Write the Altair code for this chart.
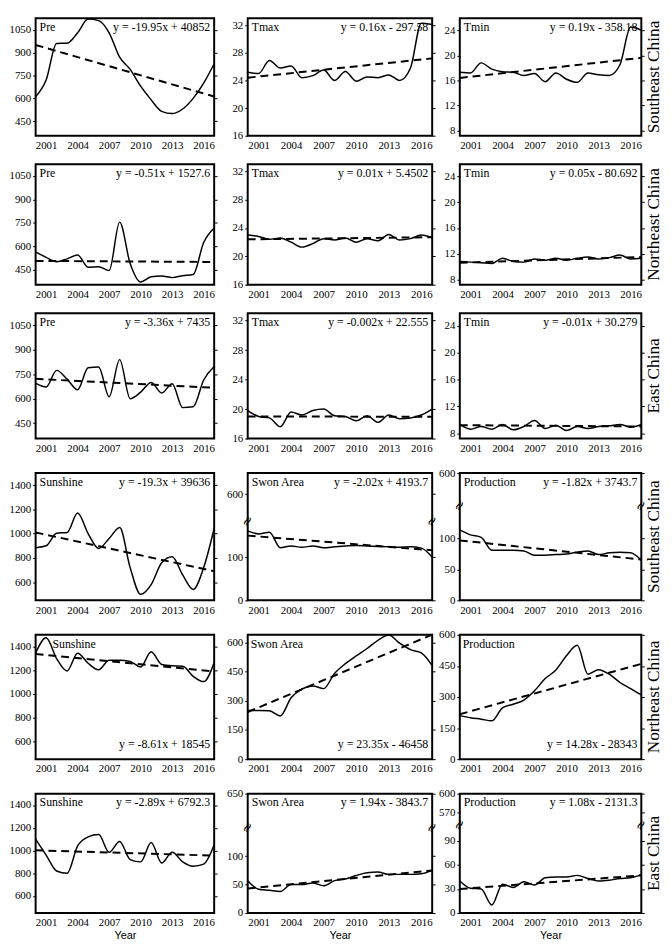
import altair as alt
import pandas as pd

years = list(range(2000, 2018))
x_ticks = [2001, 2004, 2007, 2010, 2013, 2016]

# ---- climate, Southeast / Northeast / East China ----
se_pre  = [611, 720, 960, 962, 1030, 1120, 1110, 1030, 870, 790, 680, 590, 515, 500, 530, 600, 700, 827]
se_tmax = [25.2, 25.0, 26.9, 25.8, 26.1, 24.4, 24.7, 25.5, 24.0, 25.3, 23.9, 24.5, 24.4, 24.8, 24.0, 25.8, 32.3, 32.1]
se_tmin = [17.3, 17.2, 18.8, 17.8, 17.4, 17.3, 16.8, 17.1, 15.8, 17.2, 16.2, 15.7, 17.2, 16.9, 16.8, 18.5, 24.5, 24.0]
ne_pre  = [565, 530, 502, 520, 545, 466, 470, 445, 755, 490, 372, 405, 410, 400, 412, 420, 625, 718]
ne_tmax = [23.0, 22.8, 22.4, 22.6, 22.0, 21.3, 21.8, 22.5, 22.3, 22.6, 22.0, 22.5, 22.2, 23.1, 22.3, 22.5, 23.0, 22.6]
ne_tmin = [10.8, 10.7, 10.6, 10.5, 11.3, 10.8, 10.7, 11.2, 11.0, 11.3, 11.0, 11.3, 11.5, 11.2, 11.4, 11.8, 11.2, 11.3]
ea_pre  = [696, 672, 774, 720, 655, 790, 795, 612, 840, 600, 640, 700, 635, 692, 545, 550, 715, 798]
ea_tmax = [19.8, 19.0, 18.8, 17.6, 19.6, 19.2, 19.8, 20.0, 19.1, 19.0, 18.4, 19.1, 18.2, 19.2, 18.7, 18.8, 19.2, 20.0]
ea_tmin = [9.3, 8.6, 9.0, 8.6, 9.3, 8.5, 9.0, 9.9, 8.7, 9.2, 8.4, 9.0, 8.7, 9.0, 9.1, 9.3, 8.9, 9.3]

# ---- sunshine, sown area, production ----
se_sun  = [884, 900, 1004, 1010, 1171, 1000, 878, 960, 1050, 720, 500, 580, 760, 810, 660, 540, 720, 1045]
se_swon = [161, 154, 158, 122, 126, 123, 126, 122, 124, 126, 127, 126, 125, 124, 123, 124, 121, 100]
se_prod = [114, 106, 102, 81, 81, 81, 80, 73, 73, 74, 75, 78, 80, 74, 77, 78, 77, 65]
ne_sun  = [1345, 1475, 1300, 1195, 1345, 1260, 1205, 1285, 1285, 1275, 1228, 1358, 1250, 1238, 1235, 1150, 1105, 1267]
ne_swon = [250, 250, 248, 222, 315, 360, 376, 362, 440, 490, 530, 568, 610, 637, 595, 562, 545, 480]
ne_prod = [210, 200, 193, 185, 248, 265, 285, 330, 389, 430, 500, 550, 410, 432, 410, 370, 340, 310]
ea_sun  = [1100, 960, 820, 800, 1040, 1120, 1140, 985, 1080, 920, 900, 1070, 890, 985, 900, 862, 880, 1050]
ea_swon = [57, 42, 40, 38, 50, 50, 53, 48, 57, 60, 66, 71, 72, 68, 68, 68, 69, 75]
ea_prod = [40, 31, 30, 10, 36, 32, 39, 35, 44, 45, 45, 47, 43, 40, 41, 43, 44, 48]

# ---- linear trends (value at 2000, value at 2017) ----
trend_years = [2000, 2017]
se_pre_tr, se_tmax_tr, se_tmin_tr = [950, 612], [24.4, 27.2], [16.4, 19.6]
ne_pre_tr, ne_tmax_tr, ne_tmin_tr = [507, 500], [22.4, 22.7], [10.6, 11.5]
ea_pre_tr, ea_tmax_tr, ea_tmin_tr = [722, 667], [19.0, 18.95], [9.2, 9.0]
se_sun_tr, se_swon_tr, se_prod_tr = [1010, 690], [150, 116], [97, 66]
ne_sun_tr, ne_swon_tr, ne_prod_tr = [1338, 1190], [242, 639], [217, 460]
ea_sun_tr, ea_swon_tr, ea_prod_tr = [1002, 955], [43, 75], [30, 47]

SERIF = "Liberation Serif"
SANS = "Liberation Sans"
WIDTHS = [181, 187, 184]
ROW_H = [119, 122, 127, 129, 126, 121]


def panel(vals, trend, title, eq, dom, ticks, w, h, eq_bottom=False, title_dx=4,
          relabel=None, brk=None, region=None, xtitle=False):
    df = pd.DataFrame({"year": years, "v": vals})
    tr = pd.DataFrame({"year": trend_years, "v": trend})
    xaxis_kw = dict(values=x_ticks, format="d", ticks=False, labelPadding=4,
                    labelOverlap=False, labelFlush=False)
    if xtitle:
        xaxis_kw.update(title="Year", titlePadding=2)
    else:
        xaxis_kw.update(title=None)
    xenc = alt.X("year:Q", scale=alt.Scale(domain=[2000, 2017], nice=False, zero=False),
                 axis=alt.Axis(**xaxis_kw))
    ykw = dict(orient="left", values=ticks, title=None, tickSize=3, labelPadding=2, format="d",
               labelOverlap=False)
    if relabel:
        expr = "datum.label"
        for pos, lab in relabel.items():
            expr = f"datum.value == {pos} ? '{lab}' : ({expr})"
        ykw["labelExpr"] = expr
    line = alt.Chart(df).mark_line(interpolate="monotone", color="black", strokeWidth=1.5).encode(
        x=xenc,
        y=alt.Y("v:Q", scale=alt.Scale(domain=dom, nice=False, zero=False), axis=alt.Axis(**ykw)),
    )
    trl = alt.Chart(tr).mark_line(color="black", strokeDash=[8, 5], strokeWidth=2).encode(
        x=xenc,
        y=alt.Y("v:Q", axis=alt.Axis(orient="right", values=ticks, labels=False, title=None, tickSize=3)),
    )
    ttl = alt.Chart(pd.DataFrame({"t": [title]})).mark_text(
        align="left", baseline="middle", font=SERIF, fontSize=12, color="black"
    ).encode(x=alt.value(title_dx), y=alt.value(9), text="t:N")
    eqm = alt.Chart(pd.DataFrame({"t": [eq]})).mark_text(
        align="right", baseline="middle", font=SERIF, fontSize=12, color="black"
    ).encode(x=alt.value(w - 4), y=alt.value(h - 15 if eq_bottom else 9), text="t:N")
    layers = [line, trl, ttl, eqm]
    if brk is not None:
        bdf = pd.DataFrame({"year": [2000, 2017], "v": [brk, brk], "s": ["≈", "≈"]})
        bm = alt.Chart(bdf).mark_text(
            font="DejaVu Sans", fontSize=14, angle=300, color="black", baseline="middle", align="center"
        ).encode(x=xenc, y=alt.Y("v:Q", axis=None), text="s:N")
        layers.append(bm)
    if region:
        rg = alt.Chart(pd.DataFrame({"t": [region]})).mark_text(
            align="center", baseline="middle", font=SERIF, fontSize=17.5, angle=270, color="black"
        ).encode(x=alt.value(w + 13), y=alt.value(h / 2), text="t:N")
        layers.append(rg)
    ch = alt.layer(*layers).resolve_axis(y="independent")
    return ch.properties(width=w, height=h)


pre_t = [450, 600, 750, 900, 1050]
tmax_t = [16, 20, 24, 28, 32]
tmin_t = [8, 12, 16, 20, 24]
sun_t = [600, 800, 1000, 1200, 1400]
w1, w2, w3 = WIDTHS
h1, h2, h3, h4, h5, h6 = ROW_H

rows = [
    [panel(se_pre, se_pre_tr, "Pre", "y = -19.95x + 40852", [355, 1125], pre_t, w1, h1),
     panel(se_tmax, se_tmax_tr, "Tmax", "y = 0.16x - 297.58", [16, 33], tmax_t, w2, h1),
     panel(se_tmin, se_tmin_tr, "Tmin", "y = 0.19x - 358.18", [7.2, 25.9], tmin_t, w3, h1, region="Southeast China")],
    [panel(ne_pre, ne_pre_tr, "Pre", "y = -0.51x + 1527.6", [355, 1125], pre_t, w1, h2),
     panel(ne_tmax, ne_tmax_tr, "Tmax", "y = 0.01x + 5.4502", [16, 33], tmax_t, w2, h2),
     panel(ne_tmin, ne_tmin_tr, "Tmin", "y = 0.05x - 80.692", [7.2, 25.9], tmin_t, w3, h2, region="Northeast China")],
    [panel(ea_pre, ea_pre_tr, "Pre", "y = -3.36x + 7435", [355, 1125], pre_t, w1, h3),
     panel(ea_tmax, ea_tmax_tr, "Tmax", "y = -0.002x + 22.555", [16, 33], tmax_t, w2, h3),
     panel(ea_tmin, ea_tmin_tr, "Tmin", "y = -0.01x + 30.279", [7.2, 25.9], tmin_t, w3, h3, region="East China")],
    [panel(se_sun, se_sun_tr, "Sunshine", "y = -19.3x + 39636", [450, 1500], sun_t, w1, h4),
     panel(se_swon, se_swon_tr, "Swon Area", "y = -2.02x + 4193.7", [0, 295], [0, 100, 246], w2, h4,
           relabel={246: "600"}, brk=183),
     panel(se_prod, se_prod_tr, "Production", "y = -1.82x + 3743.7", [0, 206], [0, 50, 100, 206], w3, h4,
           relabel={206: "600"}, brk=153, region="Southeast China")],
    [panel(ne_sun, ne_sun_tr, "Sunshine", "y = -8.61x + 18545", [450, 1500], sun_t, w1, h5, eq_bottom=True, title_dx=17),
     panel(ne_swon, ne_swon_tr, "Swon Area", "y = 23.35x - 46458", [0, 638], [0, 150, 300, 450, 600], w2, h5,
           eq_bottom=True, title_dx=3),
     panel(ne_prod, ne_prod_tr, "Production", "y = 14.28x - 28343", [0, 600], [0, 150, 300, 450, 600], w3, h5,
           eq_bottom=True, title_dx=3, region="Northeast China")],
    [panel(ea_sun, ea_sun_tr, "Sunshine", "y = -2.89x + 6792.3", [450, 1500], sun_t, w1, h6, xtitle=True),
     panel(ea_swon, ea_swon_tr, "Swon Area", "y = 1.94x - 3843.7", [0, 210], [0, 50, 100, 210], w2, h6,
           relabel={210: "650"}, brk=150, xtitle=True),
     panel(ea_prod, ea_prod_tr, "Production", "y = 1.08x - 2131.3", [0, 149], [0, 30, 60, 90, 125, 149], w3, h6,
           relabel={125: "570", 149: "600"}, brk=110, region="East China", xtitle=True)],
]

row_charts = [
    alt.hconcat(r[0], alt.hconcat(r[1], r[2], spacing=28, bounds="flush"), spacing=34, bounds="flush")
    for r in rows
]
chart = alt.vconcat(*row_charts, spacing=12).properties(
    padding={"left": 0, "top": 0, "right": 0, "bottom": 0}
).configure_view(
    stroke="black", strokeWidth=2
).configure_axis(
    domain=False, grid=False, tickColor="black", labelColor="black",
    labelFont=SERIF, labelFontSize=11, titleFont=SANS, titleFontSize=11,
    titleFontWeight="normal", titleColor="black",
).configure_axisX(
    labelOverlap=False, labelFlush=False
)

chart.save("out.html", embed_options={"renderer": "svg", "actions": False})
